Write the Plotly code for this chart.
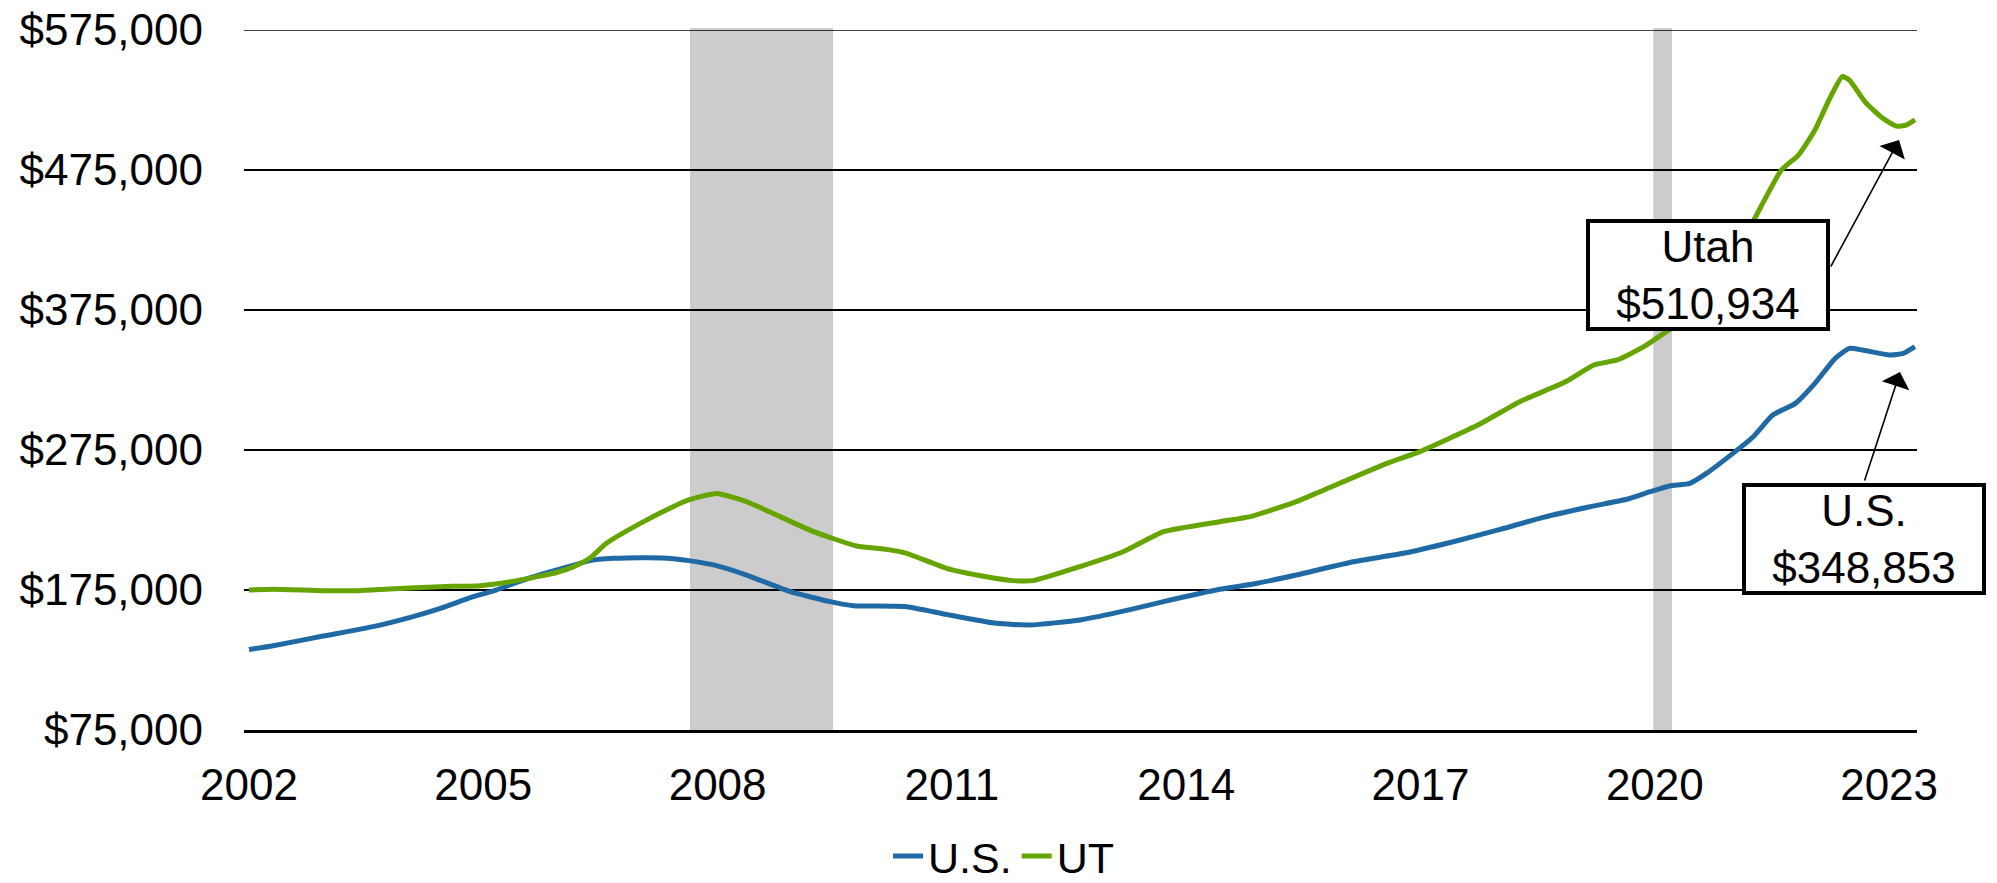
import plotly.graph_objects as go

# ---- data ----
us_years = [2002.00, 2002.31, 2002.95, 2003.59, 2004.10, 2004.45, 2004.87, 2005.13, 2005.51,
            2005.94, 2006.37, 2006.66, 2007.09, 2007.43, 2007.63, 2007.95, 2008.37, 2008.93,
            2009.44, 2009.74, 2010.42, 2010.93, 2011.57, 2012.00, 2012.64, 2013.28, 2013.71,
            2014.43, 2014.86, 2015.41, 2016.14, 2016.78, 2017.42, 2018.02, 2018.57, 2019.17,
            2019.64, 2019.94, 2020.19, 2020.45, 2020.66, 2021.00, 2021.26, 2021.51, 2021.80,
            2022.05, 2022.31, 2022.49, 2022.66, 2023.01, 2023.18, 2023.33]
us_values = [132500, 135200, 142100, 148800, 156000, 161900, 170200, 174300, 182100,
             189300, 196000, 197600, 198100, 197400, 196000, 192900, 185700, 173800,
             166700, 163800, 163100, 157600, 151200, 150000, 153600, 161000, 166700,
             175500, 179300, 185700, 195200, 201200, 209500, 218300, 226900, 234500,
             239800, 245200, 249300, 251200, 258300, 272600, 284500, 300000, 308300,
             322600, 340500, 347600, 346400, 342900, 344000, 348853]

ut_years = [2002.00, 2002.31, 2002.95, 2003.40, 2003.80, 2004.45, 2004.96, 2005.43, 2005.94,
            2006.15, 2006.37, 2006.58, 2007.01, 2007.43, 2007.63, 2007.99, 2008.37, 2008.80,
            2009.23, 2009.78, 2010.16, 2010.42, 2010.93, 2011.44, 2011.79, 2012.04, 2012.64,
            2013.20, 2013.71, 2014.43, 2014.82, 2015.41, 2015.71, 2016.57, 2016.99, 2017.76,
            2018.27, 2018.85, 2019.22, 2019.52, 2019.86, 2020.21, 2020.50, 2020.75, 2021.00,
            2021.28, 2021.62, 2021.84, 2022.05, 2022.23, 2022.40, 2022.49, 2022.70, 2022.92,
            2023.09, 2023.22, 2023.33]
ut_values = [175000, 175500, 174500, 174500, 175700, 177400, 178100, 181700, 187500,
             191500, 198000, 208500, 222600, 234500, 239300, 244000, 238100, 227400,
             216700, 206400, 204000, 201200, 190500, 184500, 181700, 181700, 191700,
             202500, 216700, 223800, 227400, 238100, 245200, 265500, 273800, 293600,
             309500, 323500, 335700, 339300, 348800, 361900, 372000, 390000, 412000,
             440500, 475000, 485700, 503600, 525000, 541700, 539300, 523100, 511900,
             506400, 507100, 510934]

recessions = [(2007.646, 2009.478), (2019.98, 2020.22)]
year_ticks = [2002, 2005, 2008, 2011, 2014, 2017, 2020, 2023]
value_ticks = [75000, 175000, 275000, 375000, 475000, 575000]

FONT = "Arial, Liberation Sans, sans-serif"
BLUE = "#1F6AA5"
GREEN = "#66A500"

fig = go.Figure()
fig.add_trace(go.Scatter(x=us_years, y=us_values, name="U.S.", mode="lines",
                         line=dict(color=BLUE, width=5, shape="spline", smoothing=0.5)))
fig.add_trace(go.Scatter(x=ut_years, y=ut_values, name="UT", mode="lines",
                         line=dict(color=GREEN, width=5, shape="spline", smoothing=0.5)))

for x0, x1 in recessions:
    fig.add_shape(type="rect", xref="x", yref="paper", x0=x0, x1=x1, y0=0, y1=1.003,
                  fillcolor="#CCCCCC", line=dict(width=0), layer="below")

# top gridline (at the range edge)
fig.add_shape(type="line", xref="paper", yref="y", x0=0, x1=1,
              y0=value_ticks[-1], y1=value_ticks[-1],
              line=dict(color="black", width=1.5), layer="below")

# callout boxes
fig.add_annotation(x=2020.68, y=400000, xref="x", yref="y", showarrow=False,
                   text=f"Utah<br>${ut_values[-1]:,.0f}",
                   font=dict(family=FONT, size=44, color="black"),
                   bgcolor="white", bordercolor="black", borderwidth=4, borderpad=2,
                   width=232, height=100, align="center", valign="middle")
fig.add_annotation(x=2022.68, y=211400, xref="x", yref="y", showarrow=False,
                   text=f"U.S.<br>${us_values[-1]:,.0f}",
                   font=dict(family=FONT, size=44, color="black"),
                   bgcolor="white", bordercolor="black", borderwidth=4, borderpad=2,
                   width=232, height=100, align="center", valign="middle")
# arrows
fig.add_annotation(x=2023.127, y=496400, ax=2022.243, ay=405000, xref="x", yref="y",
                   axref="x", ayref="y", text="", showarrow=True, arrowhead=1,
                   arrowsize=3, arrowwidth=1.6, arrowcolor="black")
fig.add_annotation(x=2023.14, y=330700, ax=2022.68, ay=252100, xref="x", yref="y",
                   axref="x", ayref="y", text="", showarrow=True, arrowhead=1,
                   arrowsize=3, arrowwidth=1.6, arrowcolor="black")

fig.update_layout(
    width=1997, height=883,
    margin=dict(l=244, r=80, t=30, b=153, autoexpand=False),
    paper_bgcolor="white", plot_bgcolor="white",
    font=dict(family=FONT, size=44, color="black"),
    showlegend=True,
    legend=dict(orientation="h", x=0.454, xanchor="center", y=-0.18, yanchor="middle",
                font=dict(family=FONT, size=43, color="black"),
                bgcolor="rgba(0,0,0,0)"),
)
fig.update_xaxes(range=[2001.936, 2023.357], tickvals=year_ticks,
                 ticktext=[str(t) for t in year_ticks], showgrid=False, zeroline=False,
                 showline=True, linecolor="black", linewidth=2.5, ticks="",
                 tickfont=dict(family=FONT, size=44), ticklabelstandoff=14,
                 automargin=False)
fig.update_yaxes(range=[75000, 575000], tickvals=value_ticks,
                 ticktext=[f"${v:,.0f}" for v in value_ticks], showgrid=True,
                 gridcolor="black", gridwidth=1.5, zeroline=False, showline=False, ticks="",
                 tickfont=dict(family=FONT, size=44), ticklabelstandoff=40,
                 automargin=False)

fig.write_html("out.html", config={"displayModeBar": False},
               post_script="document.body.style.margin='0px';document.body.style.overflow='hidden';")
